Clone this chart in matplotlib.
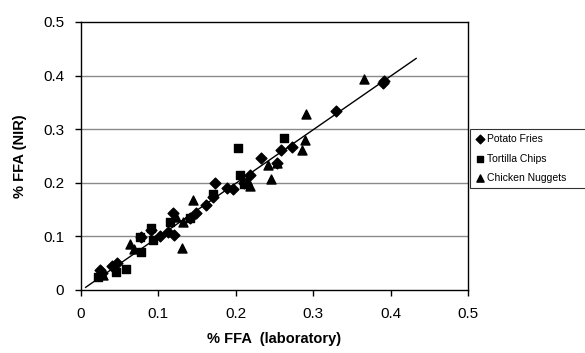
import numpy as np
import matplotlib.pyplot as plt

plt.rcParams['font.family'] = ['Liberation Sans', 'DejaVu Sans']

# Potato fries (laboratory vs NIR)
fries_lab = [0.390, 0.392, 0.330, 0.272, 0.259, 0.232, 0.253, 0.218, 0.210, 0.197,
             0.188, 0.173, 0.171, 0.162, 0.148, 0.141, 0.119, 0.120, 0.113, 0.102,
             0.091, 0.078, 0.046, 0.040, 0.025, 0.027]
fries_nir = [0.386, 0.389, 0.334, 0.267, 0.261, 0.246, 0.236, 0.215, 0.200, 0.188,
             0.190, 0.199, 0.174, 0.159, 0.143, 0.134, 0.143, 0.103, 0.109, 0.101,
             0.112, 0.098, 0.050, 0.044, 0.037, 0.031]

# Tortilla chips
chips_lab = [0.203, 0.262, 0.205, 0.210, 0.115, 0.093, 0.076, 0.078, 0.058, 0.045,
             0.022, 0.091, 0.171, 0.141]
chips_nir = [0.264, 0.284, 0.215, 0.197, 0.127, 0.093, 0.099, 0.070, 0.040, 0.034,
             0.025, 0.115, 0.180, 0.134]

# Chicken nuggets
nugg_lab = [0.365, 0.291, 0.289, 0.286, 0.242, 0.245, 0.218, 0.214, 0.145, 0.130,
            0.063, 0.068, 0.123, 0.132, 0.029, 0.253]
nugg_nir = [0.393, 0.328, 0.279, 0.261, 0.234, 0.208, 0.194, 0.205, 0.168, 0.078,
            0.085, 0.076, 0.137, 0.127, 0.028, 0.237]

# regression line
fit_slope = 1.0
fit_intercept = -0.001
fit_range = [0.006, 0.433]

fig = plt.figure(figsize=(5.85, 3.53), dpi=100)
ax = fig.add_axes([0.1385, 0.1785, 0.8 - 0.1385, 0.9377 - 0.1785])

for yv in [0.1, 0.2, 0.3, 0.4]:
    ax.axhline(yv, color='#8a8a8a', lw=1.0, zorder=0)

ax.scatter(fries_lab, fries_nir, marker='D', s=30, c='black', label='Potato Fries', zorder=3)
ax.scatter(chips_lab, chips_nir, marker='s', s=30, c='black', label='Tortilla Chips', zorder=3)
ax.scatter(nugg_lab, nugg_nir, marker='^', s=42, c='black', label='Chicken Nuggets', zorder=3)

xf = np.array(fit_range)
ax.plot(xf, fit_slope * xf + fit_intercept, color='black', lw=1.0, zorder=2)

ax.set_xlim(0, 0.5)
ax.set_ylim(0, 0.5)
ax.set_xticks([0, 0.1, 0.2, 0.3, 0.4, 0.5])
ax.set_yticks([0, 0.1, 0.2, 0.3, 0.4, 0.5])
ax.set_xticklabels(['0', '0.1', '0.2', '0.3', '0.4', '0.5'])
ax.set_yticklabels(['0', '0.1', '0.2', '0.3', '0.4', '0.5'])
ax.tick_params(direction='out', length=4, width=1, labelsize=11, pad=8)
for s in ax.spines.values():
    s.set_linewidth(1.0)

ax.set_xlabel('% FFA  (laboratory)', fontsize=10.5, fontweight='bold', labelpad=8)
ax.set_ylabel('% FFA (NIR)', fontsize=10.5, fontweight='bold', labelpad=12)

leg = fig.legend(loc='lower left', bbox_to_anchor=(0.803, 0.467, 0.3, 0.168),
                 mode='expand', fontsize=7.5, frameon=True, fancybox=False,
                 edgecolor='black', borderpad=0.5, labelspacing=0.9,
                 handletextpad=0.2, handlelength=1.0, markerscale=0.8,
                 borderaxespad=0)
leg.get_frame().set_linewidth(0.8)

fig.savefig('out.png', dpi=100)
